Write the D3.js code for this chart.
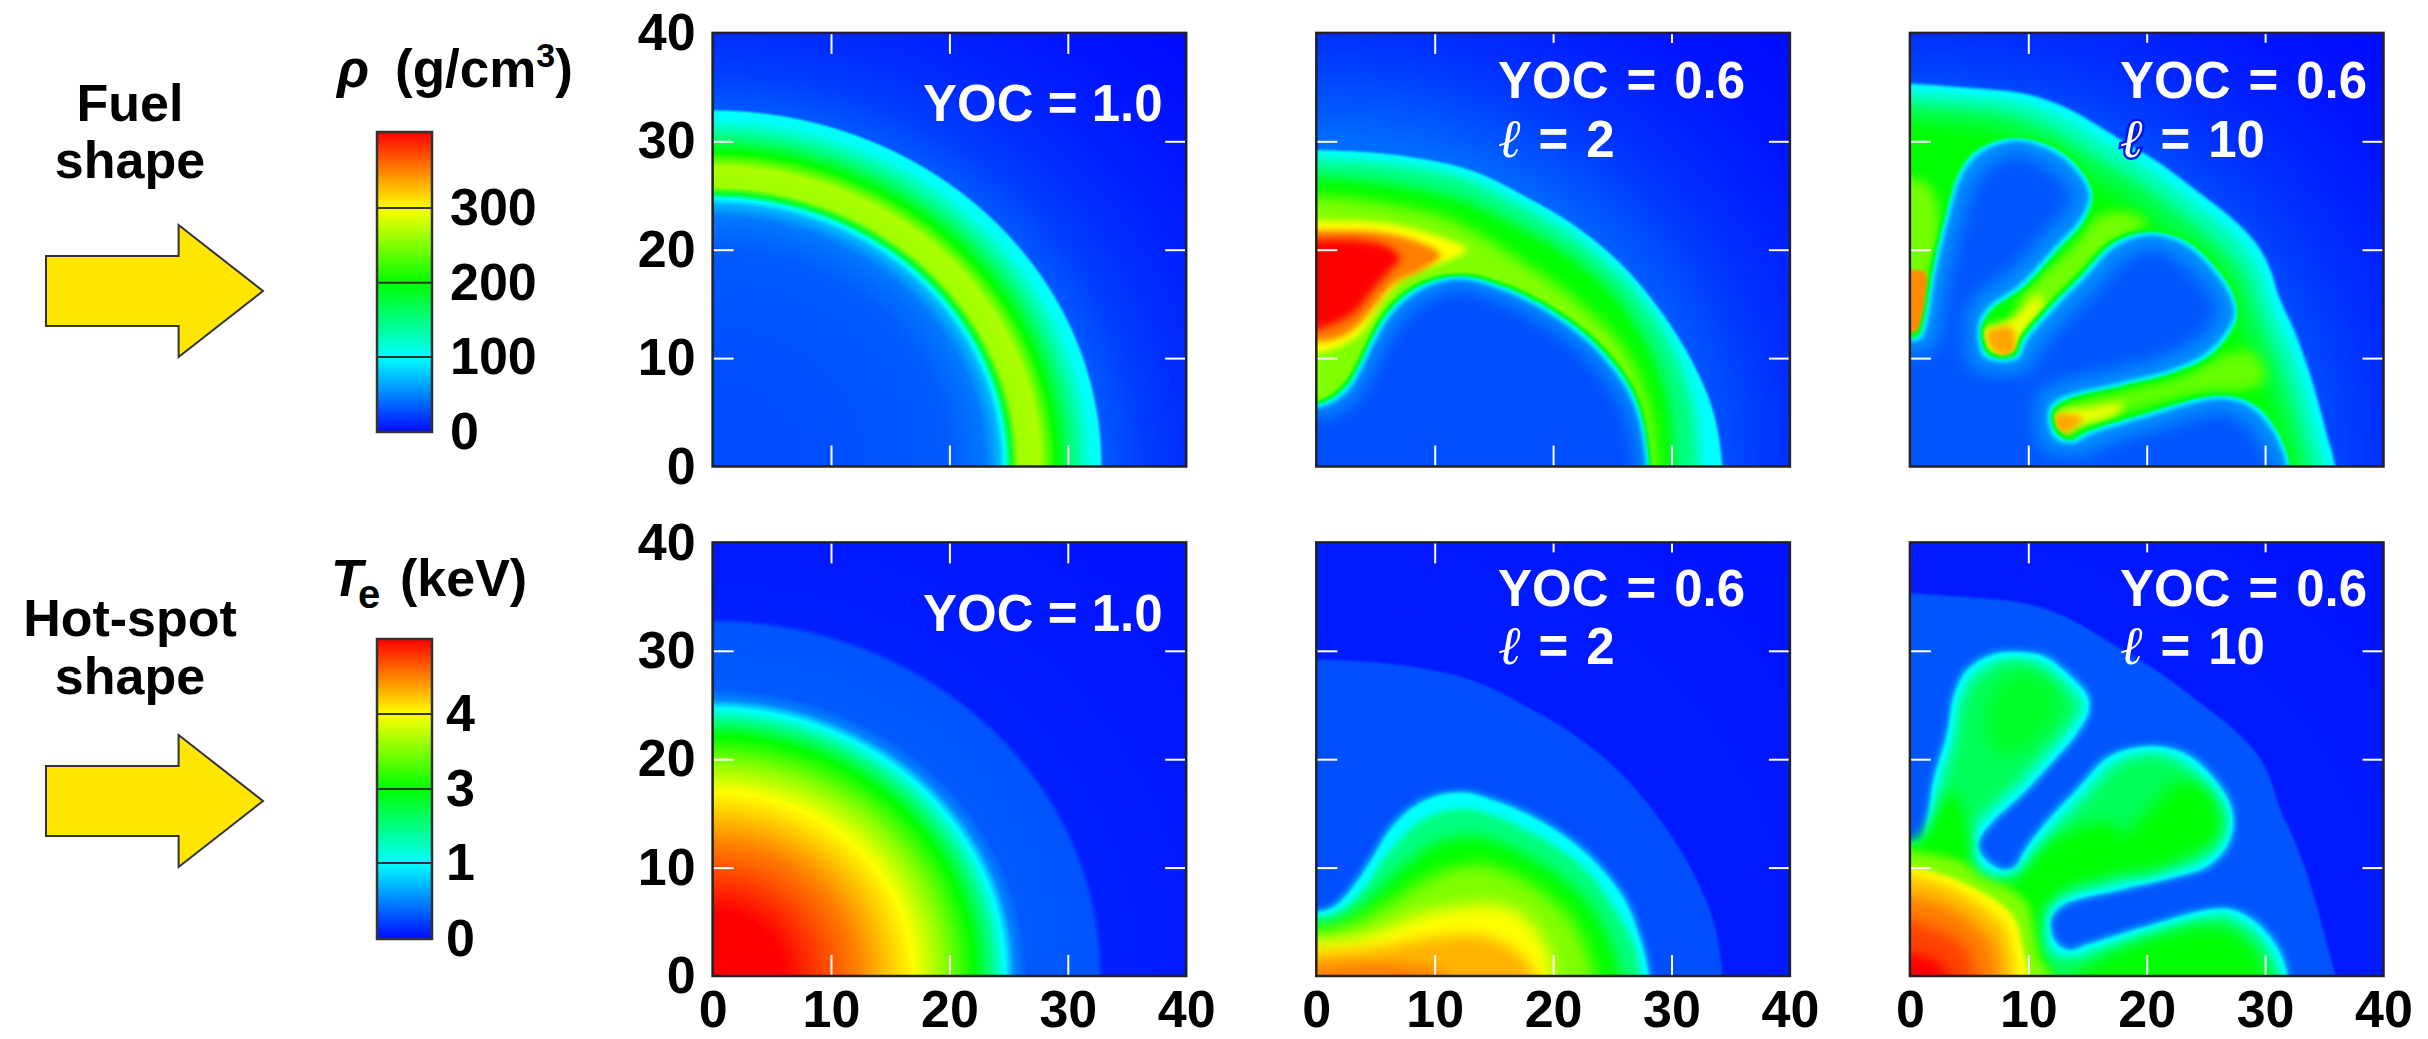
<!DOCTYPE html>
<html>
<head>
<meta charset="utf-8">
<style>
  body { margin: 0; background: #fff; }
  text { font-family: "Liberation Sans", Arial, sans-serif; font-weight: bold; }
  .tick text { font-family: "Liberation Sans", Arial, sans-serif; font-weight: bold; font-size: 52px; fill: #000; }
  .white-ticks line { stroke: #fff; stroke-width: 2px; }
  .white-ticks .domain, .labels .domain, .labels line { display: none; }
</style>
<script src="https://cdn.jsdelivr.net/npm/d3@7"></script>
</head>
<body>
<svg id="chart" width="2428" height="1039"></svg>
<script>
//////////
// DATA //
//////////

var axisTicks = [0, 10, 20, 30, 40];
var innerTicks = [10, 20, 30];

var rhoTicks = [0, 100, 200, 300];
var rhoKnots = [0, 100, 200, 300, 400];
var teTicks = [0, 1, 3, 4];
var teKnots = [0, 1, 3, 4, 5];
var jet = ['#000aff', '#00ffff', '#00ff00', '#ffff00', '#ff0000'];

// radial profiles [radius, value] read along the axes of the YOC = 1.0 panels
var rhoProfile = [[0, 27], [10, 28], [20, 33], [23, 45], [24.2, 70], [24.7, 100], [25.2, 185], [25.8, 262], [27.6, 268],
  [29, 200], [30.4, 150], [32, 104], [32.7, 100], [33, 32], [36, 22], [40, 14], [48, 5], [57, 0]];
var teProfile = [[0, 5], [6, 5], [12.2, 4.5], [17, 4], [19.8, 3.5], [22.1, 3], [23.5, 2], [24.7, 1], [25.5, 0.5], [26.5, 0.33],
  [32.5, 0.3], [33, 0.09], [40, 0.06], [57, 0.03]];

// background outside the shell for the perturbed panels
var rhoBack = [[0, 40], [30, 40], [36, 24], [40, 15], [48, 5], [57, 0]];
var teBack = [[0, 0.09], [40, 0.06], [57, 0.03]];

// contours in plot units (radius, height)
var outerL2 = [[0, 29.2], [6.2, 28.8], [11.9, 27.7], [14.7, 26.6], [17.5, 25], [20.3, 23.3], [23.1, 21.2], [25.9, 18.5], [28.7, 14.9], [31.5, 10.2], [33.5, 5.2], [34.3, 0]];
var outerL10 = [[0, 35.3], [4, 35], [9.6, 34.4], [13, 33.2], [15.8, 31.5], [18, 30], [20.8, 28.2], [24.5, 25.2], [27.3, 22.8], [29.3, 20.5],
  [30.4, 18.3], [31.2, 15.6], [32.6, 12.2], [33.8, 8.5], [34.6, 5.5], [35.2, 3], [35.9, 0]];

var rhoL2Cavity = [[0, 5.7], [1.5, 6.4], [2.7, 7.6], [3.7, 9.5], [4.8, 12], [6.2, 14.4], [8.2, 16.3], [10.4, 17.3], [12.7, 17.5], [14.7, 17],
  [17.5, 15.8], [20.3, 14.1], [23.1, 11.8], [25.9, 8.3], [27.3, 5.2], [28.1, 0]];
var rhoL2c150 = [[0, 28.3], [6, 27.9], [12, 26.7], [16.5, 24.5], [21, 21.7], [24, 19.2], [27, 16], [29.8, 11.5], [31.7, 6], [32.3, 0]];
var rhoL2c200 = [[0, 26.7], [6, 26.1], [12, 24.7], [17, 22.2], [21, 19.7], [24.5, 16.6], [27.5, 12.2], [29.5, 7], [30.2, 0]];
var rhoL2c250 = [[0, 24.9], [6, 24.2], [11.5, 22.7], [17.5, 18.8], [22, 15.3], [25.9, 11], [28, 6], [28.8, 0]];
var rhoL2c300 = [[0, 22.7], [6.2, 22.4], [10.4, 21.2], [12.7, 20], [10.4, 18.7], [7.6, 17.5], [5.4, 15], [4, 12.6], [2.6, 11.4], [0, 10.4]];
var rhoL2c350 = [[0, 21.8], [6, 21.5], [9.5, 20.3], [10.5, 19.5], [9, 18.2], [6.5, 16.8], [4.8, 14.6], [3.3, 12.8], [1.8, 11.8], [0, 11.5]];
var rhoL2c400 = [[0, 20.9], [3.4, 20.9], [6, 20.3], [7.1, 19.2], [6, 17.8], [4.6, 16], [3.4, 14.4], [2, 13.4], [0, 12.6]];

var rhoL10Cavity = [[0, 11.8], [0.75, 12.1], [1.3, 13.8], [2, 18.4], [3.15, 23.6], [4, 26.7], [5.1, 28.6], [6.8, 29.8], [9, 30.3], [11.3, 29.8],
  [13.3, 28.6], [15, 26.4], [15.4, 24.9], [14.7, 22.7], [12.4, 19.9], [9.6, 16.6], [6.8, 14.4], [6, 12.9], [6, 11.7], [6.5, 10.4], [7.9, 9.9],
  [9, 10.3], [9.6, 11.8], [11.6, 14.4], [14.4, 17.5], [17.2, 20.6], [20.3, 21.6], [23.1, 20.9], [25.3, 19], [27.3, 15.9], [27.6, 13.8], [26.7, 11.8],
  [25.1, 10.1], [22.3, 8.7], [18, 7.5], [13, 6.1], [12, 5.2], [11.9, 4.3], [12.4, 3], [13.5, 2.4], [15, 3.2], [19.4, 4.7], [25.1, 6.4], [27.3, 6.4],
  [29.3, 5.5], [31, 3.3], [32.1, 0]];
var rhoL10Column = [[-5, 26], [1.5, 26], [2.5, 22], [1.5, 17], [0.8, 14], [-5, 14]];
var rhoL10Spoke1 = [[9, 15], [11.5, 18], [14, 20.6], [15.8, 23], [18, 23.5], [20, 22.5], [17, 20.4], [14.3, 17.5], [12, 14.8], [9.7, 12]];
var rhoL10Spoke2 = [[12.5, 5.3], [18, 6.9], [23, 8.3], [27, 10.5], [29, 10.5], [30, 8], [28, 7], [25, 6.9], [19, 5.3], [14.5, 3.8]];
var rhoL10Tip1Y = [[6, 12.6], [8, 13.4], [9.7, 14.6], [10.6, 15.8], [11.3, 15], [10, 13], [9.2, 11], [8.8, 10.1], [7.5, 10], [6.5, 10.7]];
var rhoL10Tip2Y = [[12.3, 4.9], [15, 5.4], [18, 5.8], [17.5, 4.9], [14.5, 3.8], [13, 2.9], [12.2, 3.5]];
var rhoL10Tip1O = [[6.5, 12.3], [8.6, 12.8], [8.8, 10.5], [7.9, 10.2], [7, 10.8]];
var rhoL10Tip2O = [[12.4, 4.8], [13.5, 4.8], [14.6, 4.4], [13.5, 3.3], [12.8, 3.1], [12.3, 3.7]];
var rhoL10Spike = [[-5, 18.2], [0.5, 18.1], [1.3, 17.9], [1.2, 14], [0.8, 12.5], [0, 12.4], [-5, 12.4]];

var teL2Hot = [[0, 5.9], [1.5, 6.4], [3.1, 8.2], [4.8, 11], [6.2, 13.5], [8.2, 15.6], [10.4, 16.7], [12.7, 16.9], [14.7, 16.3], [17.5, 15.1],
  [20.3, 13.4], [23.1, 11], [25.9, 7.3], [27.3, 3.6], [28.1, 0]];
var teL2c2 = [[0, 5.3], [2, 5.9], [4, 8], [5.5, 10.5], [7, 12.5], [8.8, 14.3], [10.7, 15.2], [12.7, 15.4], [15, 14.8], [17.5, 13.6], [20.3, 11.9], [23, 9.5], [25.2, 6.2], [26.8, 3], [27.4, 0]];
var teL2c3 = [[0, 4.7], [2, 5.2], [4, 6.6], [6, 8.7], [8, 10.7], [10, 12.2], [12.7, 12.9], [15, 12.5], [18, 11], [20.5, 9.3], [22.8, 7], [24.5, 4], [25.7, 0]];
var teL2c35 = [[0, 4.1], [3, 4.9], [6, 6.7], [9, 8.8], [12, 10.1], [14.5, 10.2], [17, 9.2], [20, 7], [22, 4.5], [23.5, 0]];
var teL2c4 = [[0, 3.2], [3.4, 3.6], [6.2, 4.6], [9, 5.8], [11.9, 6.4], [14.7, 6.6], [16.9, 6], [18.6, 4.2], [19.7, 2.1], [20, 0]];
var teL2c43 = [[0, 2.2], [5, 2.6], [10, 3.6], [14, 3.7], [17, 2.2], [18.5, 0]];
var teL2c45 = [[0, 1], [4, 1.2], [8, 1], [11, 0]];

var teL10Hot = [[0, 12.3], [0.9, 12.6], [1.45, 14.4], [2, 18.1], [3.15, 22.4], [3.7, 25.8], [4.8, 28.2], [6.8, 29.6], [9, 29.9], [11.3, 29.5], [13.3, 27.9],
  [15, 25.8], [15.1, 24.4], [14.1, 22.4], [11.9, 19.6], [9.6, 16.9], [7.1, 14.4], [6, 12.9], [5.8, 11.8], [6.5, 10.6], [7.9, 9.8], [9, 10.2], [9.6, 11.4],
  [11.3, 13.9], [14.1, 17.2], [16.9, 20.3], [20.3, 21.2], [23.1, 20.6], [25.3, 18.7], [27, 16], [27.3, 13.8], [26.7, 11.8], [25.1, 10.1], [22.3, 9.1],
  [18, 8], [13, 6.6], [12, 5.5], [11.9, 4.3], [12.4, 3], [13.5, 2.4], [15, 2.9], [19.4, 4.4], [25.1, 6.1], [27.3, 6.1], [29.3, 4.9], [31, 2.7], [31.9, 0]];
var teL10Bulb1 = [[6.5, 24], [8, 27.3], [10.5, 27.8], [12.5, 26], [12, 23.5], [9.5, 21], [7.5, 20.5]];
var teL10Bulb2 = [[17, 11], [20, 15], [23, 18], [25.5, 16.5], [26, 13], [23, 11], [19, 9.7]];
var teL10Lobe = [[11, -5], [14, 0], [16, 1.5], [20, 3.3], [25, 4.5], [28, 3.5], [29.5, 1.5], [30.5, -5]];
var teL10Joint = [[-5, 12], [0.5, 12.5], [3.6, 17], [5, 13], [5.5, 9.3], [8, 8.5], [10, 10.2], [11.5, 12], [14, 13.5], [17, 14], [18.5, 10.5], [13, 8],
  [11.3, 6], [11, 2.5], [12, 0], [10, -5], [-5, -5]];
var teL10c35 = [[0, 11.5], [2, 11.2], [4.5, 10.5], [6, 9.2], [8.5, 8], [10, 6.5], [10.5, 4], [11, 1.5], [12, 0]];
var teL10c4 = [[0, 10], [3.4, 9.1], [7.6, 6.7], [8.9, 5.2], [9.6, 2.4], [10, 0]];
var teL10c425 = [[0, 9.2], [3, 8.3], [6.5, 6.1], [8, 4.5], [8.6, 2], [8.8, 0]];
var teL10c45 = [[0, 7.4], [3, 6.6], [5.5, 4.8], [7, 3], [7.5, 0]];
var teL10c475 = [[0, 5], [3, 4], [4.8, 2.5], [5.5, 0]];
var teL10c5 = [[0, 2], [2, 1.5], [3.2, 0]];

// contour values per panel, lowest first
var rhoL2Levels = [100, 150, 200, 250, 300, 350, 400, 190, 100, 50, 28];
var rhoL10Levels = [100, 130, 170, 200, 245, 245, 240, 295, 295, 335, 335, 345, 190, 100, 55, 30];
var teL2Levels = [0.28, 0.55, 1, 2, 3, 3.5, 4, 4.3, 4.5];
var teL10Levels = [0.3, 0.55, 1, 1.7, 2.3, 2.7, 3, 3, 3, 3.5, 4, 4.25, 4.5, 4.75, 5];

var noteYoc = ['YOC = 1.0', 'YOC = 0.6', 'YOC = 0.6'];
var noteMode = [null, '2', '10'];

////////////
// LAYOUT //
////////////

var plotW = 473.6,
    plotH = 433.6,
    plotLefts = [712.6, 1316.3, 1909.9],
    plotTops = [32.9, 542.4];

var noteX = [210.4, 181.7, 210.1],
    noteSpacing = [0, 3.8, 3.8],
    noteBaseline = [[88, 65, 65], [88.5, 63.5, 63.5]],
    modeBaseline = [124, 121.5];

// shrink (px, negative grows) and blur (px) for each contour
var rhoL2Shrink = [0, 0, 0, 0, 0, 0, 0, -3, 0, 3, 12],
    rhoL2Blur = [1.2, 6, 6, 7, 3, 3, 4, 1.2, 1, 2, 8];
var rhoL10Shrink = [0, 8, 20, 36, 0, 0, 0, 0, 0, 0, 0, 0, -3, 0, 3, 14],
    rhoL10Blur = [1.5, 4, 6, 9, 6, 6, 6, 4, 4, 3, 3, 1.5, 1.2, 1, 2, 9];
var teL2Shrink = [0, -3, 0, 0, 0, 0, 0, 0, 0],
    teL2Blur = [1.2, 2.5, 1.5, 3, 7, 8, 8, 7, 6];
var teL10Shrink = [0, -3, 0, 5, 11, 0, 0, 0, 0, 0, 0, 0, 0, 0, 0],
    teL10Blur = [1.2, 2.5, 1.5, 3, 5, 8, 8, 8, 7, 5, 2.5, 6, 7, 8, 6];

var svg = d3.select('#chart');
var defs = svg.append('defs');

var x = d3.scaleLinear().domain([0, 40]).range([0, plotW]);
var y = d3.scaleLinear().domain([0, 40]).range([plotH, 0]);

var rhoColor = d3.scaleLinear().domain(rhoKnots).range(jet);
var teColor = d3.scaleLinear().domain(teKnots).range(jet);

var contour = d3.line()
    .x(function(d) { return x(d[0]); })
    .y(function(d) { return y(d[1]); })
    .curve(d3.curveCatmullRomClosed.alpha(0.5));

/////////////////////
// CONTOUR HELPERS //
/////////////////////

// contour that runs from the left axis to the bottom axis, filled down to the origin
function toCorner(pts) {
    var last = pts[pts.length - 1];
    return [[-5, pts[0][1]]].concat(pts, [[last[0], -5], [-5, -5]]);
}

// contour that starts and ends on the left axis
function toLeft(pts) {
    return [[-5, pts[0][1]]].concat(pts, [[-5, pts[pts.length - 1][1]]]);
}

var rhoL2Shapes = [
    toCorner(outerL2), toCorner(rhoL2c150), toCorner(rhoL2c200), toCorner(rhoL2c250),
    toLeft(rhoL2c300), toLeft(rhoL2c350), toLeft(rhoL2c400),
    toCorner(rhoL2Cavity), toCorner(rhoL2Cavity), toCorner(rhoL2Cavity), toCorner(rhoL2Cavity)
];
var rhoL10Shapes = [
    toCorner(outerL10), toCorner(outerL10), toCorner(outerL10), toCorner(outerL10),
    rhoL10Column, rhoL10Spoke1, rhoL10Spoke2, rhoL10Tip1Y, rhoL10Tip2Y, rhoL10Tip1O, rhoL10Tip2O, rhoL10Spike,
    toCorner(rhoL10Cavity), toCorner(rhoL10Cavity), toCorner(rhoL10Cavity), toCorner(rhoL10Cavity)
];
var teL2Shapes = [
    toCorner(outerL2), toCorner(teL2Hot), toCorner(teL2Hot), toCorner(teL2c2), toCorner(teL2c3),
    toCorner(teL2c35), toCorner(teL2c4), toCorner(teL2c43), toCorner(teL2c45)
];
var teL10Shapes = [
    toCorner(outerL10), toCorner(teL10Hot), toCorner(teL10Hot), toCorner(teL10Hot), toCorner(teL10Hot),
    teL10Bulb1, teL10Bulb2, teL10Lobe, teL10Joint, toCorner(teL10c35), toCorner(teL10c4),
    toCorner(teL10c425), toCorner(teL10c45), toCorner(teL10c475), toCorner(teL10c5)
];

////////////////////
// DRAWING PANELS //
////////////////////

var filterCount = 0;

function softFilter(shrink, blur) {
    var id = 'soft' + (filterCount++);
    var f = defs.append('filter')
        .attr('id', id)
        .attr('filterUnits', 'userSpaceOnUse')
        .attr('x', -200).attr('y', -200)
        .attr('width', plotW + 400).attr('height', plotH + 400);
    if (shrink !== 0) {
        f.append('feMorphology')
            .attr('operator', shrink > 0 ? 'erode' : 'dilate')
            .attr('radius', Math.abs(shrink));
    }
    f.append('feGaussianBlur').attr('stdDeviation', blur);
    return 'url(#' + id + ')';
}

var gradCount = 0;

function drawProfile(g, profile, color) {
    var id = 'profile' + (gradCount++);
    var rMax = profile[profile.length - 1][0];
    var grad = defs.append('radialGradient').attr('id', id);
    grad.selectAll('stop')
        .data(profile)
        .enter()
        .append('stop')
        .attr('offset', function(d) { return d[0] / rMax; })
        .attr('stop-color', function(d) { return color(d[1]); });
    g.append('ellipse')
        .attr('cx', x(0))
        .attr('cy', y(0))
        .attr('rx', x(rMax) - x(0))
        .attr('ry', y(0) - y(rMax))
        .attr('fill', 'url(#' + id + ')');
}

function drawContours(g, shapes, levels, shrink, blur, color) {
    g.selectAll('.level')
        .data(shapes)
        .enter()
        .append('path')
        .attr('class', 'level')
        .attr('d', contour)
        .attr('fill', function(d, i) { return color(levels[i]); })
        .attr('filter', function(d, i) { return softFilter(shrink[i], blur[i]); });
}

function drawFrame(g, col, showLeft, showBottom) {

    // white inner ticks
    var longTop = col === 0 ? innerTicks : [10];
    var shortTop = col === 0 ? [] : [20, 30];

    var tickG = g.append('g').attr('class', 'white-ticks');
    tickG.append('g').call(d3.axisTop(x).tickValues(longTop).tickSize(-21).tickFormat(''));
    tickG.append('g').call(d3.axisTop(x).tickValues(shortTop).tickSize(-10).tickFormat(''));
    tickG.append('g').attr('transform', 'translate(0,' + plotH + ')')
        .call(d3.axisBottom(x).tickValues(innerTicks).tickSize(-21).tickFormat(''));
    tickG.append('g').call(d3.axisLeft(y).tickValues(innerTicks).tickSize(-21).tickFormat(''));
    tickG.append('g').attr('transform', 'translate(' + plotW + ',0)')
        .call(d3.axisRight(y).tickValues(innerTicks).tickSize(-21).tickFormat(''));

    g.append('rect')
        .attr('width', plotW)
        .attr('height', plotH)
        .attr('fill', 'none')
        .attr('stroke', '#222')
        .attr('stroke-width', 2.5);

    if (showLeft) {
        g.append('g').attr('class', 'labels')
            .call(d3.axisLeft(y).tickValues(axisTicks).tickSize(0).tickPadding(17));
    }
    if (showBottom) {
        g.append('g').attr('class', 'labels')
            .attr('transform', 'translate(0,' + plotH + ')')
            .call(d3.axisBottom(x).tickValues(axisTicks).tickSize(0).tickPadding(14.5));
    }
}

function drawNote(g, row, col) {
    var halo = col === 2;
    g.append('text')
        .attr('x', noteX[col])
        .attr('y', noteBaseline[row][col])
        .attr('fill', '#fff')
        .attr('font-size', 51)
        .style('word-spacing', noteSpacing[col] + 'px')
        .text(noteYoc[col]);
    if (noteMode[col] === null) return;
    var t = g.append('text')
        .attr('x', noteX[col])
        .attr('y', modeBaseline[row])
        .attr('fill', '#fff')
        .attr('font-size', 51)
        .style('word-spacing', noteSpacing[col] + 'px');
    t.append('tspan')
        .style('font-family', '"Liberation Serif", serif')
        .style('font-style', 'italic')
        .style('font-weight', 'normal')
        .style('font-size', '54px')
        .attr('stroke', halo && row === 0 ? '#0018e0' : 'none')
        .attr('stroke-width', 5)
        .attr('paint-order', 'stroke')
        .text('\u2113');
    t.append('tspan').text(' = ' + noteMode[col]);
}

function drawPanel(row, col, back, color, shapes, levels, shrink, blur) {
    var id = 'clip' + row + col;
    defs.append('clipPath').attr('id', id)
        .append('rect').attr('width', plotW).attr('height', plotH);

    var g = svg.append('g')
        .attr('transform', 'translate(' + plotLefts[col] + ',' + plotTops[row] + ')');
    var field = g.append('g').attr('clip-path', 'url(#' + id + ')');

    field.append('rect').attr('width', plotW).attr('height', plotH).attr('fill', color(back[back.length - 1][1]));
    drawProfile(field, back, color);
    if (shapes) drawContours(field, shapes, levels, shrink, blur, color);

    drawFrame(g, col, col === 0, row === 1);
    drawNote(g, row, col);
}

drawPanel(0, 0, rhoProfile, rhoColor);
drawPanel(0, 1, rhoBack, rhoColor, rhoL2Shapes, rhoL2Levels, rhoL2Shrink, rhoL2Blur);
drawPanel(0, 2, rhoBack, rhoColor, rhoL10Shapes, rhoL10Levels, rhoL10Shrink, rhoL10Blur);
drawPanel(1, 0, teProfile, teColor);
drawPanel(1, 1, teBack, teColor, teL2Shapes, teL2Levels, teL2Shrink, teL2Blur);
drawPanel(1, 2, teBack, teColor, teL10Shapes, teL10Levels, teL10Shrink, teL10Blur);

////////////////
// COLOR BARS //
////////////////

function drawColorBar(name, knots, ticks, color, yRange, barX, labelX) {
    var barY = d3.scaleLinear().domain(knots).range(yRange);
    var top = knots[knots.length - 1], id = 'bar' + name;
    var grad = defs.append('linearGradient').attr('id', id)
        .attr('x1', 0).attr('x2', 0).attr('y1', 1).attr('y2', 0);
    grad.selectAll('stop')
        .data(knots)
        .enter()
        .append('stop')
        .attr('offset', function(d) { return (barY(d) - barY(0)) / (barY(top) - barY(0)); })
        .attr('stop-color', function(d) { return color(d); });

    svg.append('rect')
        .attr('x', barX[0])
        .attr('y', barY(top))
        .attr('width', barX[1] - barX[0])
        .attr('height', barY(0) - barY(top))
        .attr('fill', 'url(#' + id + ')')
        .attr('stroke', '#333')
        .attr('stroke-width', 2.5);

    svg.selectAll('.sep' + name)
        .data(ticks.slice(1))
        .enter()
        .append('line')
        .attr('class', 'sep' + name)
        .attr('x1', barX[0])
        .attr('x2', barX[1])
        .attr('y1', function(d) { return barY(d); })
        .attr('y2', function(d) { return barY(d); })
        .attr('stroke', '#333')
        .attr('stroke-width', 2);

    svg.selectAll('.lab' + name)
        .data(ticks)
        .enter()
        .append('text')
        .attr('class', 'lab' + name)
        .attr('x', labelX)
        .attr('y', function(d) { return barY(d) + 17; })
        .attr('font-size', 52)
        .text(function(d) { return d; });
}

drawColorBar('Rho', rhoKnots, rhoTicks, rhoColor, [432, 357, 282.7, 208, 132], [377, 432], 450);
drawColorBar('Te', teKnots, teTicks, teColor, [939, 863, 789, 714, 639], [377, 432], 446);

////////////////////
// TITLES, ARROWS //
////////////////////

var rhoTitle = svg.append('text').attr('y', 87).attr('font-size', 53);
rhoTitle.append('tspan').attr('x', 337).style('font-style', 'italic').text('\u03c1');
rhoTitle.append('tspan').attr('x', 395).text('(g/cm');
rhoTitle.append('tspan').attr('dy', -20).attr('font-size', 34).text('3');
rhoTitle.append('tspan').attr('dy', 20).text(')');

var teTitle = svg.append('text').attr('y', 596).attr('font-size', 52);
teTitle.append('tspan').attr('x', 331).style('font-style', 'italic').text('T');
teTitle.append('tspan').attr('x', 358).attr('dy', 12).attr('font-size', 40).text('e');
teTitle.append('tspan').attr('x', 400).attr('dy', -12).text('(keV)');

var sideLabels = [['Fuel', 121], ['shape', 178], ['Hot-spot', 636], ['shape', 694]];

svg.selectAll('.side')
    .data(sideLabels)
    .enter()
    .append('text')
    .attr('class', 'side')
    .attr('x', 130)
    .attr('y', function(d) { return d[1]; })
    .attr('text-anchor', 'middle')
    .attr('font-size', 52)
    .text(function(d) { return d[0]; });

var arrowTips = [291, 801];

svg.selectAll('.arrow')
    .data(arrowTips)
    .enter()
    .append('path')
    .attr('class', 'arrow')
    .attr('d', function(t) {
        return d3.line()([[46, t - 35], [178.6, t - 35], [178.6, t - 66], [263, t], [178.6, t + 66], [178.6, t + 35], [46, t + 35]]) + 'Z';
    })
    .attr('fill', '#ffe600')
    .attr('stroke', '#333')
    .attr('stroke-width', 2);
</script>
</body>
</html>
